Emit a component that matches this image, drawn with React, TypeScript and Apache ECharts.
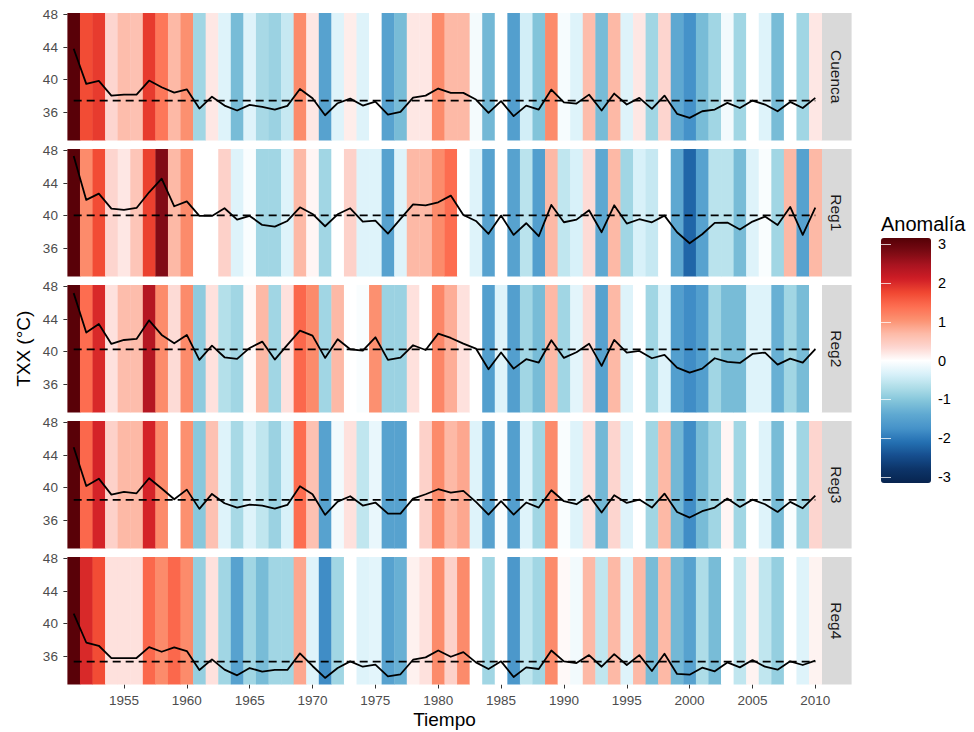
import { useEffect, useRef } from "react";
import * as echarts from "echarts";

const years = [
  1951, 1952, 1953, 1954, 1955, 1956, 1957, 1958, 1959, 1960,
  1961, 1962, 1963, 1964, 1965, 1966, 1967, 1968, 1969, 1970,
  1971, 1972, 1973, 1974, 1975, 1976, 1977, 1978, 1979, 1980,
  1981, 1982, 1983, 1984, 1985, 1986, 1987, 1988, 1989, 1990,
  1991, 1992, 1993, 1994, 1995, 1996, 1997, 1998, 1999, 2000,
  2001, 2002, 2003, 2004, 2005, 2006, 2007, 2008, 2009, 2010,
];

const panelNames = ["Cuenca", "Reg1", "Reg2", "Reg3", "Reg4"];

const txxCuenca = [
  43.8, 39.47, 39.84, 38.03, 38.16, 38.16, 39.88, 39.06, 38.4, 38.8,
  36.43, 37.9, 36.8, 36.19, 36.89, 36.64, 36.31, 36.76, 38.85, 37.7,
  35.61, 37.09, 37.66, 36.8, 37.3, 35.7, 36.02, 37.79, 38.03, 38.9,
  38.36, 38.36, 37.54, 35.9, 37.34, 35.5, 36.8, 36.31, 38.77, 37.2,
  37.05, 38.15, 36.19, 38.28, 36.93, 37.75, 36.4, 38.03, 35.78, 35.29,
  36.1, 36.31, 37.13, 36.5, 37.42, 36.93, 36.1, 37.25, 36.5, 37.75,
];
const txxReg1 = [
  47.34, 41.93, 42.7, 40.86, 40.7, 40.94, 42.87, 44.55, 41.15, 41.76,
  39.96, 39.96, 40.9, 39.5, 39.96, 38.85, 38.65, 39.34, 41.02, 40.2,
  38.69, 40.16, 40.9, 39.26, 39.39, 37.79, 39.59, 41.39, 41.27, 41.64,
  42.46, 40.08, 39.34, 37.75, 40.0, 37.62, 39.06, 37.46, 41.31, 39.18,
  39.5, 40.66, 37.95, 41.27, 39.02, 39.55, 39.18, 40.0, 37.95, 36.6,
  37.7, 39.1, 39.14, 38.28, 39.26, 39.88, 38.85, 41.07, 37.62, 40.98,
];
const txxReg2 = [
  47.2, 42.34, 43.4, 40.94, 41.43, 41.56, 43.85, 42.05, 41.02, 42.05,
  38.98, 40.74, 39.3, 39.1, 40.45, 41.23, 39.02, 40.82, 42.58, 41.97,
  39.22, 41.52, 40.29, 40.12, 41.76, 38.98, 39.26, 40.78, 40.2, 42.21,
  41.68, 40.98, 40.37, 37.83, 39.88, 37.9, 39.06, 38.65, 41.39, 39.22,
  39.92, 40.98, 38.24, 41.43, 39.88, 40.08, 39.18, 39.59, 38.03, 37.42,
  37.9, 39.18, 38.73, 38.6, 39.71, 39.88, 38.4, 39.14, 38.65, 40.29,
];
const txxReg3 = [
  44.96, 40.2, 41.1, 39.14, 39.47, 39.3, 41.15, 39.88, 38.57, 39.75,
  37.38, 39.22, 38.07, 37.54, 37.9, 37.79, 37.42, 37.87, 40.16, 39.18,
  36.64, 38.28, 38.93, 37.79, 38.16, 36.8, 36.8, 38.65, 39.18, 39.8,
  39.37, 39.59, 38.24, 36.68, 38.32, 36.68, 38.16, 37.54, 39.67, 38.32,
  37.95, 39.02, 36.93, 39.06, 38.11, 38.52, 37.54, 39.26, 37.0, 36.31,
  37.09, 37.54, 38.65, 37.62, 38.52, 37.95, 37.0, 38.24, 37.46, 39.02,
];
const txxReg4 = [
  41.22, 37.67, 37.27, 35.76, 35.76, 35.76, 37.1, 36.53, 37.06, 36.61,
  34.29, 35.59, 34.33, 33.63, 34.53, 34.08, 34.29, 34.29, 36.33, 34.78,
  33.31, 34.53, 35.35, 34.69, 34.94, 33.51, 33.76, 35.55, 35.84, 36.69,
  35.92, 36.49, 35.22, 34.41, 35.35, 33.43, 34.61, 34.41, 36.69, 35.35,
  35.14, 36.12, 34.69, 36.24, 34.9, 36.12, 34.16, 36.29, 33.8, 33.71,
  34.57, 34.12, 35.22, 34.61, 35.51, 34.69, 34.33, 35.35, 34.9, 35.43,
];

const anomCuenca = [
  3.1, 1.7, 1.85, 0.35, 0.65, 0.6, 1.85, 1.3, 0.7, 1.05,
  -0.8, 0.2, -0.3, -1.15, -0.3, -0.75, -0.85, -0.5, 1.1, 0.2,
  -1.5, -0.3, 0.15, -0.3, 0, -1.5, -1.15, 0.2, 0.2, 1.1,
  0.7, 0.7, -0.1, -1.2, 0, -1.55, -0.4, -1.05, 1.1, -0.08,
  -0.3, 0.65, -1.15, 0.7, -0.3, 0.2, -0.8, 0.35, -1.4, -1.75,
  -1.15, -0.8, -0.12, -0.8, 0, -0.3, -1.15, 0, -0.8, 0.2,
];
const anomReg1 = [
  3.1, 1.1, 1.7, 0.35, 0.2, 0.55, 1.8, 2.75, 0.7, 1.1,
  0, 0, 0.4, -0.3, -0.05, -0.8, -0.8, -0.3, 0.7, 0.08,
  -0.8, 0, 0.4, -0.3, -0.3, -1.5, -0.3, 0.7, 0.7, 1.1,
  1.4, 0, -0.3, -1.5, 0, -1.5, -0.6, -1.55, 0.7, -0.55,
  -0.35, 0.3, -1.4, 0.7, -0.8, -0.35, -0.5, 0, -1.4, -2.2,
  -1.5, -0.6, -0.6, -1.15, -0.3, -0.05, -0.8, 0.7, -1.5, 0.7,
];
const anomReg2 = [
  3.1, 1.4, 2.0, 0.25, 0.65, 0.65, 2.35, 1.1, 0.3, 1.1,
  -0.95, 0.25, -0.65, -0.8, 0.05, 0.7, -0.8, 0.25, 1.45, 1.1,
  -0.8, 0.7, 0, -0.05, 1.05, -0.85, -0.85, 0.25, 0, 1.15,
  0.8, 0.25, 0, -1.55, -0.3, -1.55, -0.8, -1.15, 0.7, -0.8,
  -0.25, 0.3, -1.5, 0.7, -0.3, 0, -0.8, -0.3, -1.55, -1.8,
  -1.55, -0.8, -1.15, -1.15, -0.3, -0.3, -1.3, -0.8, -1.15, 0,
];
const anomReg3 = [
  3.1, 1.45, 2.05, 0.4, 0.7, 0.7, 2.05, 1.1, 0, 1.05,
  -1.0, 0.6, -0.3, -0.75, -0.3, -0.55, -0.85, -0.35, 1.4, 0.6,
  -1.5, -0.12, 0.25, -0.55, -0.2, -1.5, -1.5, 0, 0.4, 1.1,
  0.7, 0.85, -0.3, -1.5, -0.05, -1.55, -0.3, -0.8, 1.1, -0.05,
  -0.3, 0.25, -1.2, 0.35, -0.3, 0, -0.8, 0.7, -1.2, -1.8,
  -1.15, -0.8, 0.08, -0.8, 0, -0.3, -1.15, -0.05, -0.8, 0.35,
];
const anomReg4 = [
  3.1, 2.0, 1.7, 0.25, 0.25, 0.25, 1.45, 1.1, 1.45, 1.1,
  -0.9, 0.25, -0.8, -1.5, -0.8, -1.15, -0.8, -0.8, 0.85, -0.3,
  -1.8, -0.8, 0, -0.3, -0.25, -1.5, -1.3, 0.12, 0.25, 1.1,
  0.4, 1.1, 0, -0.8, 0, -1.65, -0.55, -0.8, 1.1, 0.05,
  -0.12, 0.7, -0.55, 0.7, -0.3, 0.7, -1.15, 0.7, -1.2, -1.5,
  -0.7, -1.15, 0, -0.55, 0.1, -0.55, -0.9, 0, -0.3, 0.1,
];

const meanTxx = [37.42, 40.03, 40.27, 38.48, 35.31];

const yTickValues = [36, 40, 44, 48];
const xTickValues = [1955, 1960, 1965, 1970, 1975, 1980, 1985, 1990, 1995, 2000, 2005, 2010];
const legendTicks = [-3, -2, -1, 0, 1, 2, 3];

const txxSeries = [txxCuenca, txxReg1, txxReg2, txxReg3, txxReg4];
const anomSeries = [anomCuenca, anomReg1, anomReg2, anomReg3, anomReg4];

// palette (colour stops evenly spread over the colour scale range)
const paletteStops = [
  "#08244F", "#0C3468", "#164E8E", "#2470B2", "#4592C9", "#5EA8D1",
  "#82C4DA", "#AEDDE8", "#D8F1F9", "#FFFFFF", "#FDD5CF", "#FDB9A6",
  "#FC9070", "#FD6D50", "#F04731", "#CF1D26", "#AA1420", "#7A0A13", "#540006",
];

const FONT = "Liberation Sans, Arial, Helvetica, sans-serif";
const LEFT = 67.4;
const PANEL_W = 754.2;
const TOP0 = 13;
const PANEL_H = 127.5;
const STEP = 136;
const STRIP_W = 30;
const Y_MIN = 32.5;
const Y_MAX = 48.2;

function buildOption() {
  const grids: any[] = [];
  const xAxes: any[] = [];
  const yAxes: any[] = [];
  const series: any[] = [];
  const graphics: any[] = [];

  panelNames.forEach((name, i) => {
    const top = TOP0 + STEP * i;
    grids.push({ left: LEFT, top, width: PANEL_W, height: PANEL_H, containLabel: false });
    const isBottom = i === panelNames.length - 1;
    xAxes.push({
      gridIndex: i,
      type: "value",
      min: 1950.5,
      max: 2010.5,
      axisLine: { show: false },
      splitLine: { show: false },
      axisTick: {
        show: isBottom,
        customValues: xTickValues,
        length: 4,
        lineStyle: { color: "#333333", width: 1 },
      },
      axisLabel: {
        show: isBottom,
        customValues: xTickValues,
        formatter: (v: number) => String(v),
        margin: 9,
        color: "#4D4D4D",
        fontSize: 13.5,
        fontFamily: FONT,
      },
      name: isBottom ? "Tiempo" : "",
      nameLocation: "middle",
      nameGap: 25,
      nameTextStyle: { color: "#000", fontSize: 19, fontFamily: FONT },
    });
    yAxes.push({
      gridIndex: i,
      type: "value",
      min: Y_MIN,
      max: Y_MAX,
      axisLine: { show: false },
      splitLine: { show: false },
      axisTick: {
        show: true,
        customValues: yTickValues,
        length: 4,
        lineStyle: { color: "#333333", width: 1 },
      },
      axisLabel: {
        show: true,
        customValues: yTickValues,
        formatter: (v: number) => String(v),
        margin: 9.5,
        color: "#4D4D4D",
        fontSize: 13.5,
        fontFamily: FONT,
      },
    });

    graphics.push({
      type: "rect",
      shape: { x: LEFT + PANEL_W, y: top, width: STRIP_W, height: PANEL_H },
      style: { fill: "#D9D9D9" },
      silent: true,
    });
    graphics.push({
      type: "text",
      x: LEFT + PANEL_W + STRIP_W / 2,
      y: top + PANEL_H / 2,
      rotation: -Math.PI / 2,
      style: {
        text: name,
        fill: "#1A1A1A",
        fontSize: 15.5,
        fontFamily: FONT,
        align: "center",
        verticalAlign: "middle",
      },
      silent: true,
    });
  });

  // stripes
  panelNames.forEach((name, i) => {
    series.push({
      type: "custom",
      name: name + " anomalía",
      xAxisIndex: i,
      yAxisIndex: i,
      encode: { x: 0 },
      data: years.map((y, k) => [y, anomSeries[i][k]]),
      renderItem: (params: any, api: any) => {
        const x = api.value(0);
        const a = api.coord([x - 0.5, 40]);
        const b = api.coord([x + 0.5, 40]);
        const cs = params.coordSys;
        return {
          type: "rect",
          shape: { x: a[0], y: cs.y, width: b[0] - a[0] + 0.4, height: cs.height },
          style: { fill: api.visual("color") },
        };
      },
      z: 1,
      silent: true,
    });
  });

  // TXX lines
  panelNames.forEach((name, i) => {
    series.push({
      type: "line",
      name: name,
      xAxisIndex: i,
      yAxisIndex: i,
      data: years.map((y, k) => [y, txxSeries[i][k]]),
      showSymbol: false,
      symbol: "none",
      lineStyle: { color: "#000000", width: 1.8, join: "round" },
      z: 5,
      silent: true,
    });
  });

  // mean dashed lines
  panelNames.forEach((name, i) => {
    series.push({
      type: "line",
      name: name + " media",
      xAxisIndex: i,
      yAxisIndex: i,
      data: [
        [years[0], meanTxx[i]],
        [years[years.length - 1], meanTxx[i]],
      ],
      showSymbol: false,
      symbol: "none",
      lineStyle: { color: "#000000", width: 1.8, type: [8, 5] },
      z: 4,
      silent: true,
    });
  });

  // colour bar axis grid
  const cbTop = 244.2;
  const cbH = 232.8;
  grids.push({ left: 881, top: cbTop, width: 50, height: cbH });
  xAxes.push({ gridIndex: 5, type: "value", min: 0, max: 1, show: false });
  yAxes.push({
    gridIndex: 5,
    type: "value",
    min: -3,
    max: 3,
    interval: 1,
    position: "right",
    z: 10,
    axisLine: { show: false },
    splitLine: { show: false },
    axisTick: {
      show: true,
      inside: true,
      length: 10,
      customValues: legendTicks,
      lineStyle: { color: "rgba(255,255,255,0.75)", width: 1 },
    },
    axisLabel: {
      show: true,
      customValues: legendTicks,
      margin: 7,
      color: "#000000",
      fontSize: 14.5,
      fontFamily: FONT,
    },
  });
  yAxes.push({
    gridIndex: 5,
    type: "value",
    min: -3,
    max: 3,
    interval: 1,
    position: "left",
    z: 10,
    axisLine: { show: false },
    splitLine: { show: false },
    axisTick: {
      show: true,
      inside: true,
      length: 10,
      customValues: legendTicks,
      lineStyle: { color: "rgba(255,255,255,0.75)", width: 1 },
    },
    axisLabel: { show: false },
  });

  graphics.push({
    type: "text",
    x: 881,
    y: 224,
    style: {
      text: "Anomalía",
      fill: "#000000",
      fontSize: 20,
      fontFamily: FONT,
      align: "left",
      verticalAlign: "middle",
    },
    silent: true,
  });
  graphics.push({
    type: "text",
    x: 23,
    y: TOP0 + (STEP * 4 + PANEL_H) / 2,
    rotation: Math.PI / 2,
    style: {
      text: "TXX (°C)",
      fill: "#000000",
      fontSize: 19,
      fontFamily: FONT,
      align: "center",
      verticalAlign: "middle",
    },
    silent: true,
  });

  return {
    animation: false,
    backgroundColor: "#FFFFFF",
    textStyle: { fontFamily: FONT },
    grid: grids,
    xAxis: xAxes,
    yAxis: yAxes,
    visualMap: {
      type: "continuous",
      show: true,
      min: -3.15,
      max: 3.15,
      dimension: 1,
      seriesIndex: [0, 1, 2, 3, 4],
      inRange: { color: paletteStops },
      left: 881,
      top: 238,
      itemWidth: 50,
      itemHeight: 245,
      padding: 0,
      calculable: false,
      realtime: false,
      hoverLink: false,
      text: null,
      showLabel: false,
    },
    graphic: graphics,
    series,
  };
}

export default function App() {
  const ref = useRef<HTMLDivElement>(null);
  useEffect(() => {
    if (!ref.current) return;
    const chart = echarts.init(ref.current, null, { renderer: "svg" });
    chart.setOption(buildOption() as any);
    return () => chart.dispose();
  }, []);
  return (
    <div
      ref={ref}
      style={{ position: "fixed", left: 0, top: 0, width: 974, height: 732, background: "#fff" }}
    />
  );
}
